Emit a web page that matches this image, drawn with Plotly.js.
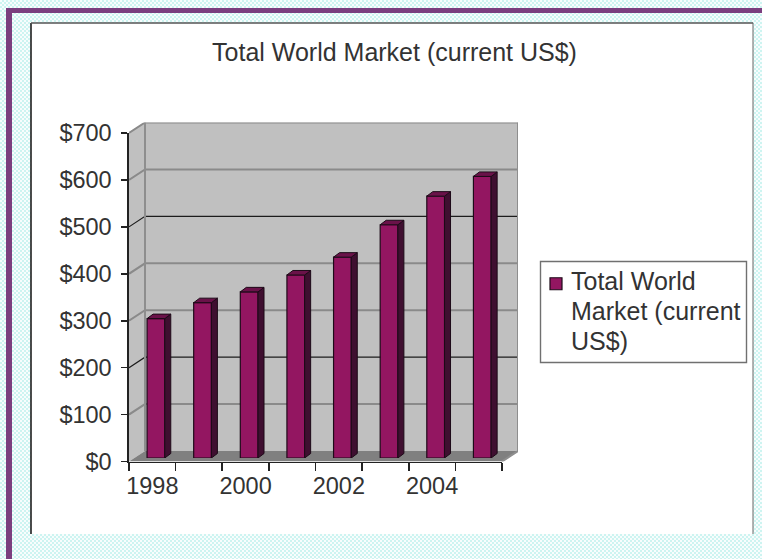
<!DOCTYPE html>
<html>
<head>
<meta charset="utf-8">
<script src="https://cdn.plot.ly/plotly-3.0.1.min.js"></script>
<style>
  html, body { margin: 0; padding: 0; width: 762px; height: 559px; overflow: hidden; }
  body {
    background-color: #ffffff;
    background-image: repeating-conic-gradient(#cdf4f1 0 25%, #f8fdfd 0 50%);
    background-size: 4px 4px;
  }
  #chart { width: 762px; height: 559px; }
</style>
</head>
<body>
<div id="chart"></div>
<script>
// Market size per year, in current US$
const years = [1998, 1999, 2000, 2001, 2002, 2003, 2004, 2005];
const marketValues = [297, 331, 354, 390, 428, 497, 558, 600];
const yearTicks = [1998, 2000, 2002, 2004];
const yearLabels = ['1998', '2000', '2002', '2004'];
const yearEdges = [1997.5, 1998.5, 1999.5, 2000.5, 2001.5, 2002.5, 2003.5, 2004.5, 2005.5];
const dollarTicks = [0, 100, 200, 300, 400, 500, 600, 700];
const dollarLabels = ['$0', '$100', '$200', '$300', '$400', '$500', '$600', '$700'];
const seriesName = 'Total World<br>Market (current<br>US$)';
const lightGrid = [100, 300, 400, 600, 700];
const darkGrid = [200, 500];

const W = 762, H = 559;
const px = v => v / W;
const py = v => 1 - v / H;
const FONT = 'Liberation Sans, Arial, sans-serif';
const TEXT = '#333333';
const xStart = yearEdges[0], xEnd = yearEdges[yearEdges.length - 1];

// Pixel frame of the front plane of the 3-D box
const front = { left: 129, right: 502, bottom: 461.5, top: 133 };
const slotPx = (front.right - front.left) / years.length;
const dollarPx = (front.bottom - front.top) / 700;
// Box depth, in data units
const depthX = 16 / slotPx, depthY = 10.5 / dollarPx;

// Bars sit a little behind the front plane
const barShift = { x: 3.6, y: 3.5 };
const barWidth = 0.38, barDepthX = 6 / slotPx, barDepthY = 4.5 / dollarPx;

function poly(xs, ys, color) {
  return { type: 'scatter', mode: 'none', x: xs, y: ys, fill: 'toself', fillcolor: color,
           xaxis: 'x', yaxis: 'y', showlegend: false, hoverinfo: 'skip' };
}
function lines(xs, ys, color, width) {
  return { type: 'scatter', mode: 'lines', x: xs, y: ys, line: { color, width },
           xaxis: 'x', yaxis: 'y', showlegend: false, hoverinfo: 'skip' };
}
function gridTraces(values, color, width) {
  const xs = [], ys = [];
  values.forEach(v => {
    xs.push(xStart, xStart + depthX, xEnd + depthX, null);
    ys.push(v, v + depthY, v + depthY, null);
  });
  return lines(xs, ys, color, width);
}

// Side and top faces of every bar
const sideX = [], sideY = [], topX = [], topY = [];
marketValues.forEach((v, i) => {
  const r = years[i] + barWidth / 2, l = years[i] - barWidth / 2;
  sideX.push(r, r + barDepthX, r + barDepthX, r, r, null);
  sideY.push(0, barDepthY, v + barDepthY, v, 0, null);
  topX.push(l, l + barDepthX, r + barDepthX, r, l, null);
  topY.push(v, v + barDepthY, v + barDepthY, v, v, null);
});

const traces = [
  // Back wall, side wall and floor
  poly([xStart + depthX, xEnd + depthX, xEnd + depthX, xStart + depthX, xStart + depthX],
       [depthY, depthY, 700 + depthY, 700 + depthY, depthY], '#c0c0c0'),
  poly([xStart, xStart + depthX, xStart + depthX, xStart, xStart],
       [0, depthY, 700 + depthY, 700, 0], '#c0c0c0'),
  poly([xStart, xEnd, xEnd + depthX, xStart + depthX, xStart],
       [0, 0, depthY, depthY, 0], '#808080'),
  gridTraces(lightGrid, '#8a8a8a', 2),
  gridTraces(darkGrid, '#1c1c1c', 1.2),
  lines([xStart + depthX, xStart + depthX, null, xEnd + depthX, xEnd + depthX, xEnd],
        [depthY, 700 + depthY, null, 700 + depthY, depthY, 0], '#8e8e8e', 2),
  // Front axes carry the ticks; a second x axis carries the year labels between them
  { type: 'scatter', mode: 'none', x: years, y: marketValues, xaxis: 'x2', yaxis: 'y2',
    showlegend: false, hoverinfo: 'skip' },
  { type: 'scatter', mode: 'none', x: years, y: marketValues, xaxis: 'x4', yaxis: 'y2',
    showlegend: false, hoverinfo: 'skip' },
  // Bars
  { type: 'bar', name: seriesName, x: years, y: marketValues, width: barWidth,
    xaxis: 'x3', yaxis: 'y3', showlegend: true,
    marker: { color: '#931661', line: { color: '#1d0a18', width: 1.2 } } },
  { type: 'scatter', mode: 'lines', x: sideX, y: sideY, fill: 'toself', fillcolor: '#3f0f30',
    line: { color: '#1d0a18', width: 1 }, xaxis: 'x3', yaxis: 'y3', showlegend: false, hoverinfo: 'skip' },
  { type: 'scatter', mode: 'lines', x: topX, y: topY, fill: 'toself', fillcolor: '#6a1249',
    line: { color: '#1d0a18', width: 1 }, xaxis: 'x3', yaxis: 'y3', showlegend: false, hoverinfo: 'skip' }
];

const hiddenAxis = { showgrid: false, zeroline: false, showticklabels: false, ticks: '', showline: false };
const panelLine = (x0, y0, x1, y1, color, width) => ({
  type: 'line', xref: 'paper', yref: 'paper', layer: 'below',
  x0: px(x0), x1: px(x1), y0: py(y0), y1: py(y1), line: { color, width }
});
const paperRect = (x0, y0, x1, y1, fill, line) => ({
  type: 'rect', xref: 'paper', yref: 'paper', layer: 'below',
  x0: px(x0), x1: px(x1), y0: py(y1), y1: py(y0), fillcolor: fill, line
});

const layout = {
  width: W, height: H,
  margin: { l: 0, r: 0, t: 0, b: 0 },
  paper_bgcolor: 'rgba(0,0,0,0)',
  plot_bgcolor: 'rgba(0,0,0,0)',
  font: { family: FONT, size: 24, color: TEXT },
  title: { text: 'Total World Market (current US$)', x: px(394.5), xanchor: 'center',
           y: py(52), yanchor: 'middle', font: { family: FONT, size: 25, color: TEXT } },
  xaxis: Object.assign({}, hiddenAxis, { domain: [px(front.left), px(front.right + 16)],
           range: [xStart, xEnd + depthX], anchor: 'y' }),
  yaxis: Object.assign({}, hiddenAxis, { domain: [py(front.bottom), py(front.top - 10.5)],
           range: [0, 700 + depthY], anchor: 'x' }),
  xaxis2: { domain: [px(front.left), px(front.right)], anchor: 'y2', range: [xStart, xEnd],
            tickmode: 'array', tickvals: yearEdges, showticklabels: false,
            ticks: 'outside', ticklen: 8, tickwidth: 1.6, tickcolor: '#222',
            showline: true, linecolor: '#222', linewidth: 1.6, showgrid: false, zeroline: false },
  xaxis4: { domain: [px(front.left), px(front.right)], anchor: 'y2', range: [xStart, xEnd],
            tickmode: 'array', tickvals: yearTicks, ticktext: yearLabels, ticks: '',
            ticklabelstandoff: 8, tickangle: 0, showline: false, showgrid: false, zeroline: false,
            tickfont: { family: FONT, size: 23.5, color: TEXT } },
  yaxis2: { domain: [py(front.bottom), py(front.top)], anchor: 'x2', range: [0, 700],
            tickmode: 'array', tickvals: dollarTicks, ticktext: dollarLabels,
            ticks: 'outside', ticklen: 6, tickwidth: 1.6, tickcolor: '#222',
            ticklabelstandoff: 5,
            showline: true, linecolor: '#222', linewidth: 1.6, showgrid: false, zeroline: false,
            tickfont: { family: FONT, size: 23.5, color: TEXT } },
  xaxis3: Object.assign({}, hiddenAxis, { domain: [px(front.left + barShift.x), px(front.right + barShift.x)],
            anchor: 'y3', range: [xStart, xEnd] }),
  yaxis3: Object.assign({}, hiddenAxis, { domain: [py(front.bottom - barShift.y), py(front.top - barShift.y)],
            anchor: 'x3', range: [0, 700] }),
  legend: { x: px(531), xanchor: 'left', y: py(257), yanchor: 'top', bgcolor: 'rgba(0,0,0,0)',
            borderwidth: 0, font: { family: FONT, size: 25, color: TEXT }, valign: 'top',
            itemwidth: 30, tracegroupgap: 0 },
  shapes: [
    // Purple frame along the top and left page edges
    paperRect(6, 8, 12, H, '#7b3f7f', { width: 0 }),
    paperRect(6, 8, W, 13, '#7b3f7f', { width: 0 }),
    // White chart panel with its thin border
    paperRect(31, 23, 753, 534, '#ffffff', { width: 0 }),
    panelLine(31, 534, 31, 23, '#111', 1.5),
    panelLine(31, 23, 753, 23, '#555', 1.5),
    panelLine(753, 534, 753, 23, '#666', 1),
    // Legend box
    paperRect(540.5, 261.5, 746.5, 362.5, '#ffffff', { color: '#707070', width: 1.4 })
  ]
};

Plotly.newPlot('chart', traces, layout, { displayModeBar: false, staticPlot: true }).then(gd => {
  // Place the legend swatch beside the first line and tighten the label's line spacing
  gd.querySelectorAll('.legend .legendsymbols').forEach(s => s.setAttribute('transform', 'translate(5,4)'));
  gd.querySelectorAll('.legend .legendtext tspan.line').forEach((t, i) => t.setAttribute('dy', (i * 1.2) + 'em'));
});
</script>
</body>
</html>
